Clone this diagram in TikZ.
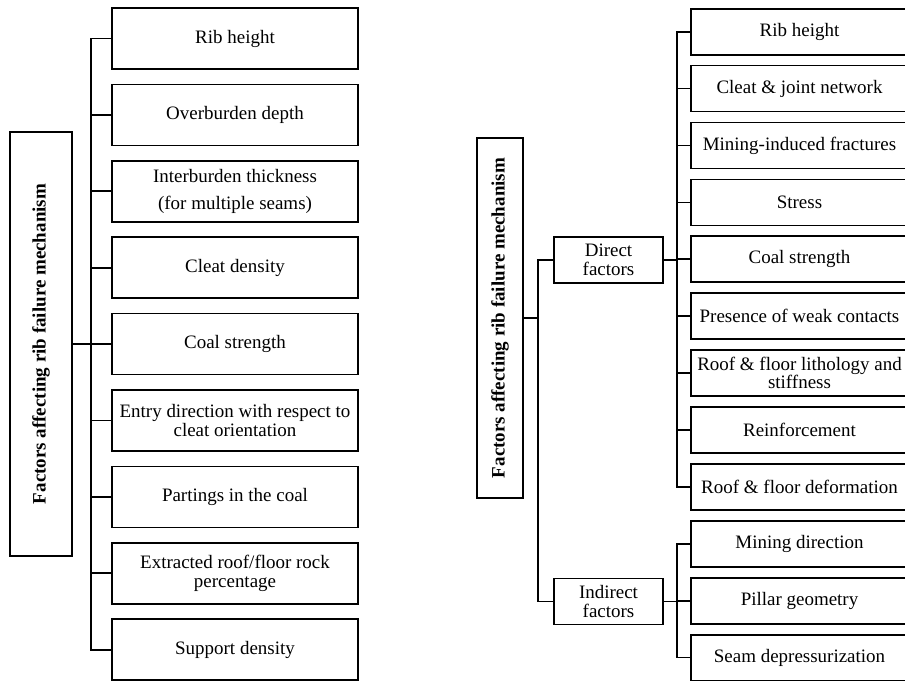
\documentclass[tikz,border=0pt]{standalone}
\usepackage{fontspec}
\setmainfont{Liberation Serif}
\usepackage{tikz}

\begin{document}
\begin{tikzpicture}[x=0.02cm, y=-0.02cm, line width=1pt, font=\fontsize{10.8}{10.5}\selectfont,
	rootnode/.style={rectangle,draw,rotate=90,font=\fontsize{10.8}{10.5}\selectfont\bfseries,inner sep=2pt},
	midnode/.style={rectangle,draw,align=center,minimum width=2.18cm,minimum height=0.92cm,inner sep=2pt},
	leftnode/.style={rectangle,draw,align=center,minimum width=4.92cm,minimum height=1.22cm,inner sep=2pt},
	rightnode/.style={rectangle,draw,align=center,minimum width=4.34cm,minimum height=0.92cm,inner sep=2pt}]
		\useasboundingbox (0,0) rectangle (905,681);
		\clip (0,0) rectangle (905,681);
		% left tree
		\node[rootnode, minimum width=8.48cm, minimum height=1.24cm] (lr) at (41, 344) {Factors affecting rib failure mechanism};
		\node[leftnode] (l1) at (235, 38.5) {Rib height};
		\node[leftnode] (l2) at (235, 114.9) {Overburden depth};
		\node[leftnode] (l3) at (235, 191.3) {Interburden thickness\\[4.5pt](for multiple seams)};
		\node[leftnode] (l4) at (235, 267.7) {Cleat density};
		\node[leftnode] (l5) at (235, 344.1) {Coal strength};
		\node[leftnode] (l6) at (235, 420.5) {Entry direction with respect to\\cleat orientation};
		\node[leftnode] (l7) at (235, 496.9) {Partings in the coal};
		\node[leftnode] (l8) at (235, 573.3) {Extracted roof/floor rock\\percentage};
		\node[leftnode] (l9) at (235, 649.7) {Support density};
		\draw (l1.west) -- ++(-20,0) |- (lr.south);
		\draw (l2.west) -- ++(-20,0) |- (lr.south);
		\draw (l3.west) -- ++(-20,0) |- (lr.south);
		\draw (l4.west) -- ++(-20,0) |- (lr.south);
		\draw (l5.west) -- ++(-20,0) |- (lr.south);
		\draw (l6.west) -- ++(-20,0) |- (lr.south);
		\draw (l7.west) -- ++(-20,0) |- (lr.south);
		\draw (l8.west) -- ++(-20,0) |- (lr.south);
		\draw (l9.west) -- ++(-20,0) |- (lr.south);
		
		% right tree
		\node[rootnode, minimum width=7.2cm, minimum height=0.92cm] (rr) at (500, 318) {Factors affecting rib failure mechanism};
		\node[midnode] (d) at (608.5, 260) {Direct\\factors};
		\node[midnode] (i) at (608.5, 601.5) {Indirect\\factors};
		\node[rightnode] (r1) at (799.5, 31.7) {Rib height};
		\node[rightnode] (r2) at (799.5, 88.6) {Cleat \& joint network};
		\node[rightnode] (r3) at (799.5, 145.5) {Mining-induced fractures};
		\node[rightnode] (r4) at (799.5, 202.4) {Stress};
		\node[rightnode] (r5) at (799.5, 259.3) {Coal strength};
		\node[rightnode] (r6) at (799.5, 316.2) {Presence of weak contacts};
		\node[rightnode] (r7) at (799.5, 373.1) {Roof \& floor lithology and\\stiffness};
		\node[rightnode] (r8) at (799.5, 430) {Reinforcement};
		\node[rightnode] (r9) at (799.5, 486.9) {Roof \& floor deformation};
		\node[rightnode] (r10) at (799.5, 543.8) {Mining direction};
		\node[rightnode] (r11) at (799.5, 600.7) {Pillar geometry};
		\node[rightnode] (r12) at (799.5, 657.6) {Seam depressurization};
		\draw (d.west) -- ++(-15,0) |- (rr.south);
		\draw (i.west) -- ++(-15,0) |- (rr.south);
		\draw (r1.west) -- ++(-13,0) |- (d.east);
		\draw (r2.west) -- ++(-13,0) |- (d.east);
		\draw (r3.west) -- ++(-13,0) |- (d.east);
		\draw (r4.west) -- ++(-13,0) |- (d.east);
		\draw (r5.west) -- ++(-13,0) |- (d.east);
		\draw (r6.west) -- ++(-13,0) |- (d.east);
		\draw (r7.west) -- ++(-13,0) |- (d.east);
		\draw (r8.west) -- ++(-13,0) |- (d.east);
		\draw (r9.west) -- ++(-13,0) |- (d.east);
		\draw (r10.west) -- ++(-13,0) |- (i.east);
		\draw (r11.west) -- ++(-13,0) |- (i.east);
		\draw (r12.west) -- ++(-13,0) |- (i.east);
		
	\end{tikzpicture}
\end{document}
